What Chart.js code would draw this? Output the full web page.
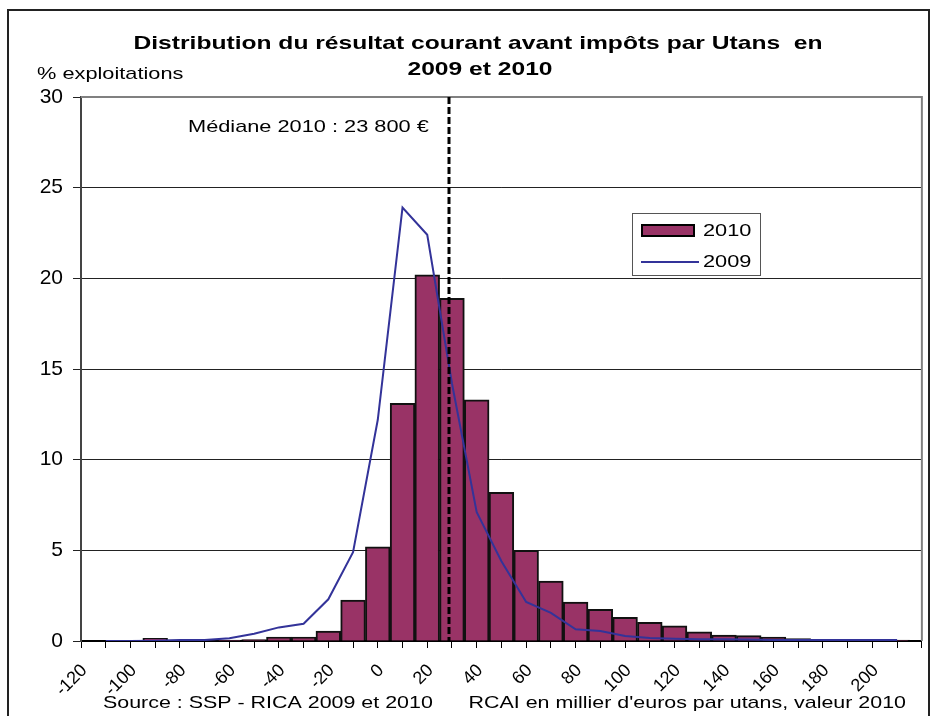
<!DOCTYPE html>
<html>
<head>
<meta charset="utf-8">
<script src="https://cdn.jsdelivr.net/npm/chart.js@4/dist/chart.umd.min.js"></script>
<style>
html,body{margin:0;padding:0;background:#fff;}
canvas{display:block;}
</style>
</head>
<body>
<canvas id="c" width="937" height="716"></canvas>
<script>
// ---- Data ----
const binStarts = [-120,-110,-100,-90,-80,-70,-60,-50,-40,-30,-20,-10,0,10,20,30,40,50,60,70,80,90,100,110,120,130,140,150,160,170,180,190,200];
const binWidth = 10;
const values2010 = [0,0,0.15,0.05,0.03,0.05,0.08,0.22,0.22,0.55,2.25,5.2,13.1,20.2,18.9,13.3,8.2,5.0,3.3,2.15,1.75,1.3,1.03,0.83,0.5,0.33,0.3,0.22,0.13,0.05,0.05,0.05,0.05];
const values2009 = [0,0,0.02,0.05,0.05,0.15,0.4,0.75,0.95,2.3,4.9,12.2,23.9,22.4,14.2,7.1,4.4,2.15,1.55,0.65,0.55,0.28,0.17,0.12,0.1,0.1,0.08,0.06,0.05,0.05,0.05,0.05,0.05];
const xTickLabels = [-120,-100,-80,-60,-40,-20,0,20,40,60,80,100,120,140,160,180,200];
const yTicks = [0,5,10,15,20,25,30];
const median2010 = 23.8;
const seriesNames = ['2010','2009'];
const titleLines = ['Distribution du résultat courant avant impôts par Utans  en','2009 et 2010'];
const yAxisTitle = '% exploitations';
const medianLabel = 'Médiane 2010 : 23 800 €';
const sourceText = "Source : SSP - RICA 2009 et 2010      RCAI en millier d'euros par utans, valeur 2010";

const FONT = '"Liberation Sans", Arial, sans-serif';
const barColor = '#993366';
const lineColor = '#333399';
const SX = 1.28; // horizontal text stretch of the original rendering

const barData = binStarts.map((s,i)=>({x: s + binWidth/2, y: values2010[i]}));
const lineData = binStarts.map((s,i)=>({x: s + binWidth/2, y: values2009[i]}));

function textS(ctx, txt, x, y, align, sx){
  ctx.save();
  ctx.translate(x, y);
  ctx.scale(sx, 1);
  ctx.textAlign = align;
  ctx.textBaseline = 'middle';
  ctx.fillText(txt, 0, 0);
  ctx.restore();
}

const decor = {
  id: 'decor',
  beforeDraw(chart){
    const ctx = chart.ctx;
    ctx.save();
    ctx.fillStyle = '#fff';
    ctx.fillRect(0,0,chart.width,chart.height);
    ctx.restore();
  },
  afterDatasetsDraw(chart){
    const ctx = chart.ctx, a = chart.chartArea;
    const xs = chart.scales.x;
    ctx.save();
    ctx.strokeStyle = '#808080';
    ctx.lineWidth = 2;
    ctx.beginPath();
    ctx.moveTo(a.left, a.top); ctx.lineTo(a.right, a.top); ctx.lineTo(a.right, a.bottom);
    ctx.stroke();
    const mx = Math.round(xs.getPixelForValue(median2010));
    ctx.strokeStyle = '#000';
    ctx.lineWidth = 3;
    ctx.setLineDash([7,3]);
    ctx.beginPath();
    ctx.moveTo(mx, a.top); ctx.lineTo(mx, a.bottom);
    ctx.stroke();
    ctx.restore();
  },
  afterDraw(chart){
    const ctx = chart.ctx;
    ctx.save();
    ctx.strokeStyle = '#222';
    ctx.lineWidth = 2;
    ctx.beginPath();
    ctx.moveTo(8, 740); ctx.lineTo(8, 10); ctx.lineTo(929, 10); ctx.lineTo(929, 740);
    ctx.stroke();
    ctx.fillStyle = '#000';
    ctx.font = 'bold 19px ' + FONT;
    textS(ctx, titleLines[0], 478, 44, 'center', 1.295);
    textS(ctx, titleLines[1], 480, 70, 'center', 1.295);
    ctx.font = '17px ' + FONT;
    textS(ctx, yAxisTitle, 37, 74, 'left', SX);
    textS(ctx, medianLabel, 188, 127, 'left', SX);
    textS(ctx, sourceText, 103, 703, 'left', 1.26);
    // legend
    const lx = 632, ly = 213, lw = 128, lh = 62;
    ctx.fillStyle = '#fff';
    ctx.fillRect(lx, ly, lw, lh);
    ctx.strokeStyle = '#555';
    ctx.lineWidth = 1;
    ctx.strokeRect(lx+0.5, ly+0.5, lw, lh);
    ctx.fillStyle = barColor;
    ctx.fillRect(642, 225, 52, 11);
    ctx.strokeStyle = '#000';
    ctx.lineWidth = 2;
    ctx.strokeRect(642, 225, 52, 11);
    ctx.strokeStyle = lineColor;
    ctx.beginPath(); ctx.moveTo(641, 262); ctx.lineTo(699, 262); ctx.stroke();
    ctx.fillStyle = '#000';
    ctx.font = '17px ' + FONT;
    textS(ctx, seriesNames[0], 703, 231, 'left', SX);
    textS(ctx, seriesNames[1], 703, 262, 'left', SX);
    ctx.restore();
  }
};

new Chart(document.getElementById('c'), {
  data: {
    datasets: [
      {
        type: 'line', label: seriesNames[1], data: lineData,
        borderColor: lineColor, borderWidth: 2, pointRadius: 0, tension: 0, order: 0, fill: false
      },
      {
        type: 'bar', label: seriesNames[0], data: barData,
        backgroundColor: barColor, borderColor: '#111', borderWidth: 2,
        barPercentage: 1, categoryPercentage: 1, order: 1
      }
    ]
  },
  options: {
    responsive: false,
    animation: false,
    layout: { padding: { left: 0, top: 97, right: 15, bottom: 0 } },
    plugins: { legend: { display: false }, tooltip: { enabled: false }, title: { display: false } },
    scales: {
      x: {
        type: 'linear', min: -120, max: 210,
        afterFit(s){ s.height = 75; },
        afterBuildTicks(s){ s.ticks = binStarts.concat([binStarts[binStarts.length-1]+binWidth]).map(v=>({value:v})); },
        ticks: {
          autoSkip: false, maxRotation: 45, minRotation: 45, padding: 12, labelOffset: -9,
          color: '#000', font: { family: FONT, size: 18 },
          callback: (v)=> xTickLabels.includes(v) ? String(v) : ''
        },
        grid: { drawOnChartArea: false, drawTicks: true, tickLength: 7, color: '#000', lineWidth: 1 },
        border: { display: true, color: '#000', width: 2 }
      },
      y: {
        min: 0, max: 30,
        afterFit(s){ s.width = 81; },
        afterBuildTicks(s){ s.ticks = yTicks.map(v=>({value:v})); },
        ticks: { color: '#000', font: { family: FONT, size: 21 }, padding: 10 },
        grid: { color: '#222', lineWidth: 1, tickLength: 8 },
        border: { display: true, color: '#444', width: 2 }
      }
    }
  },
  plugins: [decor]
});
</script>
</body>
</html>
